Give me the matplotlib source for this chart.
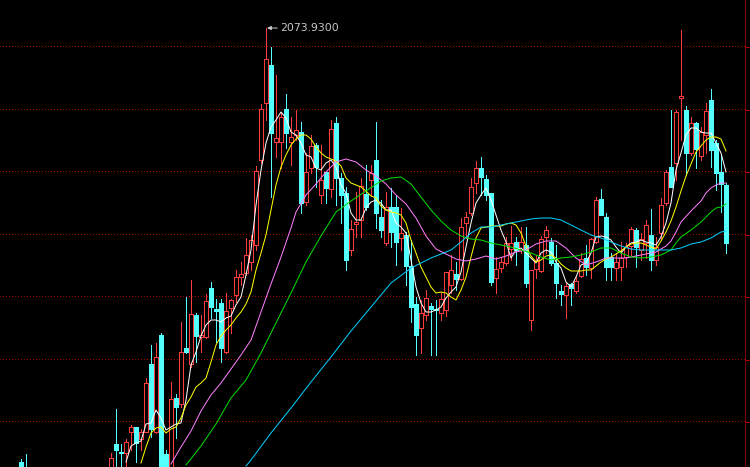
import numpy as np
import matplotlib
matplotlib.use("Agg")
import matplotlib.pyplot as plt

nan = np.nan
# ---- daily OHLC (index points) ----
opens = [1206, 1190] + [nan]*16 + [
    1186, 1242, 1226, 1224, 1266, 1276, 1252, 1266, 1402, 1266,
    1460, 1222, 1180, 1334, 1322, 1434, 1402, 1500, 1456, 1456,
    1554, 1512, 1524, 1426, 1514, 1540, 1576, 1584, 1606, 1640,
    1810, 1924, 2000, 1846, 1846, 1912, 1846, 1860, 1866, 1726,
    1794, 1840, 1740, 1786, 1752, 1884, 1774, 1744, 1630, 1682,
    1690, 1742, 1770, 1810, 1696, 1644, 1716, 1716, 1654, 1660,
    1598, 1522, 1474, 1500, 1518, 1512, 1504, 1510, 1560, 1582,
    1572, 1684, 1704, 1764, 1794, 1772, 1744, 1574, 1594, 1604,
    1632, 1646, 1630, 1640, 1490, 1592, 1588, 1656, 1646, 1604,
    1548, 1540, 1562, 1548, 1578, 1614, 1594, 1646, 1732, 1696,
    1616, 1594, 1596, 1616, 1638, 1670, 1630, 1644, 1660, 1610,
    1664, 1724, 1796, 1804, 1934, 1910, 1824, 1884, 1818, 1860,
    1930, 1844, 1786, 1760]
highs = [1212, 1222] + [nan]*16 + [
    1224, 1312, 1242, 1252, 1280, 1276, 1272, 1374, 1440, 1444,
    1464, 1230, 1366, 1342, 1486, 1536, 1570, 1504, 1500, 1542,
    1566, 1532, 1532, 1544, 1532, 1590, 1606, 1654, 1660, 1798,
    1922, 2073.93, 2036, 1980, 1906, 1942, 1896, 1910, 1886, 1824,
    1860, 1844, 1840, 1786, 1890, 1896, 1784, 1756, 1690, 1746,
    1774, 1800, 1800, 1886, 1730, 1746, 1754, 1740, 1714, 1666,
    1650, 1536, 1530, 1550, 1524, 1530, 1546, 1586, 1620, 1606,
    1694, 1706, 1774, 1808, 1816, 1780, 1744, 1616, 1616, 1656,
    1678, 1656, 1676, 1676, 1590, 1620, 1658, 1678, 1654, 1640,
    1560, 1564, 1564, 1576, 1624, 1640, 1654, 1736, 1752, 1704,
    1624, 1624, 1646, 1644, 1676, 1674, 1664, 1690, 1712, 1656,
    1734, 1790, 1910, 1910, 2070, 1918, 1896, 1886, 1876, 1924,
    1952, 1850, 1820, 1764]
lows = [1170, 1160] + [nan]*16 + [
    1180, 1190, 1190, 1190, 1230, 1206, 1230, 1266, 1256, 1264,
    1160, 1170, 1170, 1254, 1316, 1424, 1396, 1406, 1426, 1454,
    1494, 1446, 1406, 1424, 1464, 1526, 1560, 1580, 1590, 1630,
    1804, 1890, 1736, 1816, 1794, 1834, 1800, 1850, 1704, 1720,
    1784, 1756, 1724, 1724, 1736, 1720, 1684, 1590, 1620, 1656,
    1656, 1710, 1740, 1674, 1656, 1640, 1636, 1600, 1630, 1560,
    1486, 1420, 1424, 1490, 1420, 1420, 1490, 1498, 1544, 1550,
    1570, 1654, 1700, 1744, 1740, 1730, 1560, 1544, 1586, 1600,
    1610, 1600, 1624, 1556, 1470, 1574, 1586, 1624, 1600, 1534,
    1520, 1494, 1520, 1544, 1576, 1580, 1574, 1644, 1700, 1570,
    1570, 1570, 1570, 1596, 1620, 1596, 1610, 1614, 1590, 1600,
    1650, 1720, 1756, 1770, 1850, 1780, 1820, 1794, 1810, 1824,
    1796, 1750, 1706, 1624]
closes = [1180, 1170] + [nan]*16 + [
    1214, 1230, 1224, 1246, 1276, 1244, 1266, 1364, 1272, 1416,
    1170, 1180, 1332, 1316, 1426, 1426, 1502, 1458, 1460, 1528,
    1516, 1508, 1434, 1508, 1530, 1576, 1582, 1620, 1650, 1788,
    1912, 2012, 1864, 1854, 1896, 1864, 1856, 1870, 1724, 1786,
    1838, 1796, 1770, 1754, 1872, 1774, 1740, 1610, 1672, 1686,
    1758, 1716, 1784, 1704, 1670, 1716, 1666, 1646, 1664, 1598,
    1516, 1460, 1504, 1534, 1512, 1510, 1532, 1586, 1590, 1572,
    1676, 1696, 1756, 1794, 1776, 1740, 1566, 1592, 1606, 1644,
    1644, 1630, 1646, 1564, 1590, 1610, 1652, 1670, 1604, 1564,
    1542, 1558, 1554, 1568, 1612, 1596, 1652, 1730, 1700, 1596,
    1596, 1606, 1614, 1636, 1672, 1636, 1652, 1680, 1610, 1636,
    1720, 1786, 1756, 1906, 1938, 1824, 1884, 1832, 1866, 1908,
    1830, 1784, 1762, 1644]

# ---- moving averages ----
ma5_start = 21
ma5 = [1206, 1238, 1244, 1248, 1282, 1284, 1310, 1294, 1270, 1276,
       1282, 1284, 1330, 1400, 1426, 1458, 1480, 1490, 1490, 1486,
       1494, 1498, 1520, 1536, 1580, 1630, 1720, 1790, 1844, 1876,
       1890, 1906, 1894, 1866, 1860, 1844, 1820, 1816, 1794, 1790,
       1804, 1810, 1796, 1760, 1744, 1704, 1690, 1690, 1714, 1726,
       1730, 1724, 1710, 1710, 1684, 1676, 1664, 1610, 1556, 1524,
       1506, 1506, 1510, 1516, 1534, 1546, 1556, 1586, 1636, 1684,
       1724, 1740, 1754, 1730, 1700, 1670, 1646, 1614, 1630, 1634,
       1624, 1614, 1604, 1624, 1630, 1626, 1606, 1594, 1566, 1556,
       1576, 1600, 1604, 1624, 1656, 1658, 1656, 1650, 1636, 1624,
       1636, 1644, 1646, 1650, 1646, 1644, 1640, 1656, 1684, 1724,
       1790, 1824, 1860, 1874, 1874, 1866, 1864, 1864, 1844, 1824,
       1786]
ma10_start = 24
ma10 = [1204, 1236, 1264, 1274, 1276, 1264, 1272, 1276, 1294, 1320,
        1336, 1356, 1364, 1374, 1406, 1440, 1458, 1470, 1480, 1494,
        1506, 1522, 1546, 1590, 1624, 1660, 1710, 1760, 1796, 1820,
        1840, 1852, 1860, 1860, 1852, 1836, 1824, 1816, 1812, 1808,
        1798, 1774, 1764, 1760, 1756, 1748, 1738, 1734, 1718, 1710,
        1706, 1704, 1700, 1684, 1650, 1624, 1596, 1576, 1556, 1544,
        1546, 1544, 1536, 1530, 1550, 1576, 1616, 1654, 1674, 1676,
        1678, 1678, 1678, 1682, 1684, 1680, 1664, 1638, 1618, 1606,
        1610, 1618, 1620, 1614, 1602, 1594, 1588, 1588, 1588, 1590,
        1590, 1598, 1606, 1612, 1616, 1622, 1628, 1636, 1642, 1644,
        1644, 1640, 1636, 1632, 1648, 1666, 1688, 1716, 1748, 1778,
        1802, 1826, 1838, 1850, 1856, 1856, 1852, 1828]
ma20_idx = [30, 32, 34, 36, 38, 40, 42, 44, 46, 48, 50, 52, 54, 55, 57, 59,
            61, 63, 65, 67, 69, 71, 73, 75, 77, 79, 81, 83, 85, 87, 89, 91,
            93, 95, 97, 99, 101, 103, 105, 107, 109, 111, 113, 115, 117, 119,
            121, 123, 125, 127, 129, 130, 131, 132, 134, 136, 137, 138, 139,
            140, 141]
ma20 = [1202, 1236, 1268, 1308, 1340, 1364, 1392, 1420, 1450, 1506, 1562,
        1616, 1674, 1706, 1740, 1762, 1786, 1806, 1812, 1806, 1790, 1778,
        1762, 1740, 1722, 1694, 1658, 1632, 1622, 1612, 1608, 1612, 1618,
        1612, 1618, 1626, 1630, 1642, 1648, 1648, 1634, 1614, 1600, 1606,
        1614, 1614, 1614, 1618, 1622, 1626, 1638, 1648, 1666, 1686, 1708,
        1728, 1744, 1754, 1760, 1764, 1764]
ma30_idx = [33, 36, 39, 42, 45, 48, 51, 54, 57, 60, 63, 66, 69, 72, 74, 76,
            78, 80, 82, 84, 86, 88, 90, 92, 94, 96, 98, 100, 102, 104, 106,
            108, 110, 112, 114, 116, 118, 120, 122, 124, 126, 128, 130, 131,
            132, 134, 136, 137, 138, 139, 140, 141]
ma30 = [1200, 1238, 1282, 1334, 1370, 1424, 1484, 1544, 1606, 1658, 1706,
        1728, 1748, 1768, 1774, 1776, 1762, 1736, 1710, 1688, 1670, 1658,
        1652, 1650, 1644, 1640, 1636, 1630, 1624, 1616, 1610, 1614, 1616,
        1620, 1626, 1634, 1634, 1624, 1616, 1614, 1616, 1620, 1630, 1644,
        1656, 1670, 1686, 1696, 1706, 1714, 1716, 1722]
ma60_idx = [45, 46, 50, 54, 58, 62, 66, 70, 74, 78, 82, 86, 88, 90, 92, 94,
            96, 98, 100, 102, 104, 106, 108, 110, 112, 114, 116, 118, 120,
            122, 124, 126, 128, 130, 132, 134, 136, 138, 139, 140, 141]
ma60 = [1198, 1210, 1264, 1314, 1366, 1416, 1468, 1516, 1564, 1594, 1614,
        1630, 1646, 1664, 1676, 1676, 1680, 1684, 1688, 1692, 1694, 1694,
        1690, 1680, 1670, 1660, 1654, 1646, 1638, 1632, 1630, 1630, 1630,
        1630, 1634, 1642, 1646, 1654, 1660, 1666, 1668]

grid_levels = [2037, 1911, 1787, 1661, 1537, 1411, 1287]
peak_label = "2073.9300"

# ---- colours ----
UP = "#ff3c3c"
DOWN = "#54ffff"
BG = "#000000"
GRID = "#a00000"

fig = plt.figure(figsize=(7.5, 4.67), dpi=100, facecolor=BG)
ax = fig.add_axes([0, 0, 745 / 750, 1])
ax.set_facecolor(BG)

o = np.array(opens, float)
h = np.array(highs, float)
l = np.array(lows, float)
c = np.array(closes, float)
x = np.arange(len(o))
up = c >= o
dn = ~up
px = 0.72  # one pixel in points

ax.hlines(grid_levels, -4.2, 144.8, colors=GRID, lw=px,
          linestyles=[(0, (1, 2))], zorder=0.5, snap=False)

# wicks
ax.vlines(x[up], l[up], h[up], color=UP, lw=px, zorder=2, antialiased=False)
ax.vlines(x[dn], l[dn], h[dn], color=DOWN, lw=px, zorder=2, antialiased=False)
# bodies
w = 0.62
body_lo = np.minimum(o, c)
body_h = np.maximum(np.abs(c - o), 1.5)
ax.bar(x[up], body_h[up], bottom=body_lo[up], width=w, facecolor=BG,
       edgecolor=UP, linewidth=px, zorder=3, antialiased=False)
ax.bar(x[dn], body_h[dn], bottom=body_lo[dn], width=w, facecolor=DOWN,
       edgecolor=DOWN, linewidth=px, zorder=3, antialiased=False)

# moving averages
ax.plot(np.arange(ma5_start, ma5_start + len(ma5)), ma5, color="#ffffff", lw=px, zorder=4)
ax.plot(np.arange(ma10_start, ma10_start + len(ma10)), ma10, color="#ffff00", lw=px, zorder=4)
ax.plot(ma20_idx, ma20, color="#ff80ff", lw=px, zorder=4)
ax.plot(ma30_idx, ma30, color="#00e000", lw=px, zorder=4)
ax.plot(ma60_idx, ma60, color="#00d0ff", lw=px, zorder=4)

# peak annotation
ipk = int(np.nanargmax(h))
ax.annotate(peak_label, xy=(ipk + 0.2, h[ipk]), xytext=(ipk + 2.8, h[ipk]),
            color="#c8c8c8", fontsize=7.8, va="center", ha="left",
            arrowprops=dict(arrowstyle="-|>,head_length=0.3,head_width=0.15",
                            color="#c8c8c8", lw=px, shrinkA=0, shrinkB=0),
            zorder=6)

ax.set_xlim(-4.2, 144.8)
ax.set_ylim(1196, 2130)

for s in ["top", "left", "bottom"]:
    ax.spines[s].set_visible(False)
ax.spines["right"].set_color("#800000")
ax.spines["right"].set_linewidth(px)
ax.set_xticks([])
ax.yaxis.tick_right()
ax.set_yticks(grid_levels)
ax.set_yticklabels(["2"] + [""] * (len(grid_levels) - 1))
ax.tick_params(axis="y", colors="#c00000", length=3, width=px, labelsize=8, pad=1)

fig.savefig("out.png", dpi=100, facecolor=BG)
